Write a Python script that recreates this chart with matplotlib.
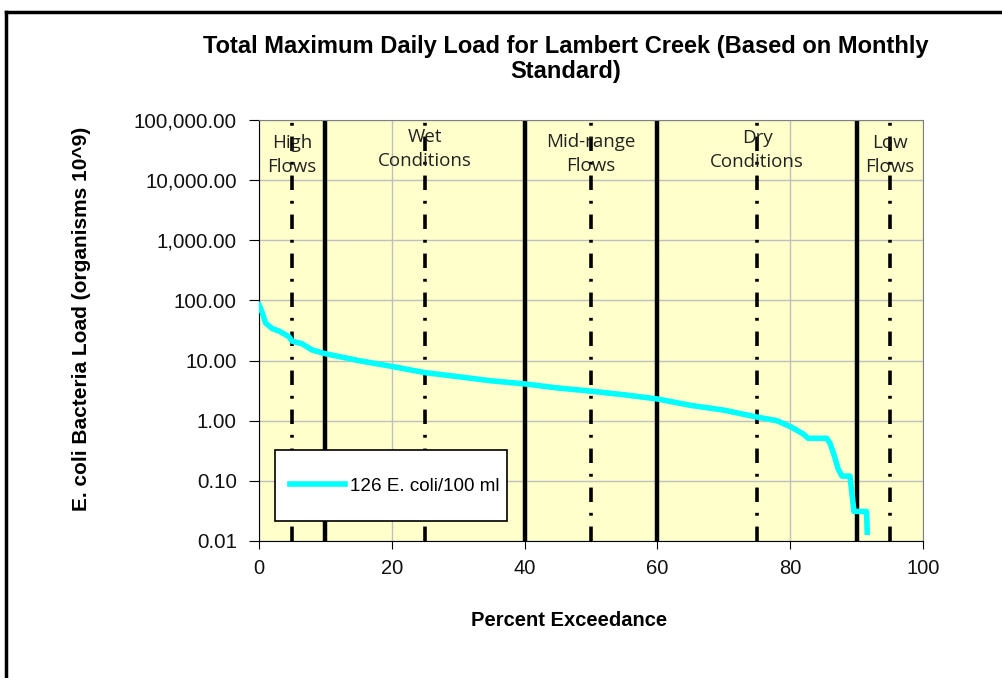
import numpy as np
import matplotlib.pyplot as plt
from matplotlib.lines import Line2D
from matplotlib.patches import Rectangle

plt.rcParams['font.family'] = ['Liberation Sans', 'DejaVu Sans']

# load duration curve
pct = [0, 0.5, 1, 2, 3, 4.5, 5, 6.5, 8, 10, 15, 20, 25, 30, 35, 40, 45, 50, 55, 60,
       65, 70, 75, 78, 80, 82, 82.7, 85.5, 86, 86.7, 87.2, 87.8, 89, 89.4, 89.6, 91.5, 91.6]
load = [85, 62, 42, 34, 31, 25, 21, 19, 15, 13, 10, 8, 6.3, 5.4, 4.6, 4.1, 3.5, 3.1, 2.7, 2.3,
        1.8, 1.5, 1.15, 1.0, 0.8, 0.6, 0.51, 0.51, 0.42, 0.25, 0.16, 0.12, 0.12, 0.05, 0.031, 0.031, 0.014]

zone_edges = [10, 40, 60, 90]
zone_mids = [5, 25, 50, 75, 95]
zone_names = ['High\nFlows', 'Wet\nConditions', 'Mid-range\nFlows', 'Dry\nConditions', 'Low\nFlows']
zone_label_y = [141, 135, 140, 136, 141]  # pixel rows of first line

yticks = [0.01, 0.1, 1, 10, 100, 1000, 10000, 100000]

W, H = 1003, 678
fig = plt.figure(figsize=(W / 100, H / 100), dpi=100)
ax = fig.add_axes([259 / W, 137 / H, 664 / W, 421 / H])
ax.set_facecolor('#FFFFCC')

ax.set_yscale('log')
ax.set_ylim(0.01, 100000)
ax.set_xlim(0, 100)
ax.set_yticks(yticks)
ax.set_yticklabels([f'{v:,.2f}' for v in yticks], fontsize=14.8, color='#111111')
ax.minorticks_off()
ax.set_xticks(range(0, 101, 20))
ax.tick_params(axis='x', labelsize=14.5, labelcolor='#111111', direction='out', length=6, pad=7)
ax.tick_params(axis='y', direction='out', length=7, pad=9)

ax.grid(True, color='#BFBFBF', linewidth=1)
ax.set_axisbelow(True)
for s in ['top', 'right']:
    ax.spines[s].set_color('#808080')
for s in ['left', 'bottom']:
    ax.spines[s].set_color('black')

for e in zone_edges:
    ax.axvline(e, color='black', linewidth=3.2, zorder=2)
for m in zone_mids:
    ax.axvline(m, color='black', linewidth=2.6, linestyle=(0, (4, 3, 0.8, 3)), zorder=2)

for m, name, py in zip(zone_mids, zone_names, zone_label_y):
    ax.text(m, 1 - (py - 120 - 7) / 421, name, transform=ax.get_xaxis_transform(),
            ha='center', va='top', fontsize=13.5, family=['Open Sans', 'DejaVu Sans'],
            color='#222222', linespacing=1.45, zorder=3)

ax.plot(pct, load, color='#00FFFF', linewidth=4, label='126 E. coli/100 ml', zorder=4)

# legend box
ax.add_patch(Rectangle((16 / 664, 20 / 421), 232 / 664, 71 / 421, transform=ax.transAxes,
                       facecolor='white', edgecolor='black', linewidth=1.2, zorder=5))
leg = ax.legend(loc='center left', bbox_to_anchor=(31 / 664, 55 / 421), fontsize=13.6,
                frameon=False, borderpad=0, handlelength=2.9, handletextpad=0.3,
                borderaxespad=0)
leg.set_zorder(6)

fig.text(566 / W, 1 - 59 / H, 'Total Maximum Daily Load for Lambert Creek (Based on Monthly\nStandard)',
         ha='center', va='center', fontsize=17, fontweight='bold', linespacing=1.15)
fig.text(569 / W, 1 - 620 / H, 'Percent Exceedance', ha='center', va='center',
         fontsize=14.5, fontweight='bold')
fig.text(82 / W, 1 - 319 / H, 'E. coli Bacteria Load (organisms 10^9)', ha='center', va='center',
         rotation=90, fontsize=15, fontweight='bold')

# outer chart frame
fig.add_artist(Line2D([6 / W, 6 / W], [0, 1 - 12 / H], color='black', linewidth=2.5,
                      transform=fig.transFigure))
fig.add_artist(Line2D([6 / W, 1], [1 - 12 / H, 1 - 12 / H], color='black', linewidth=2.5,
                      transform=fig.transFigure))

fig.savefig('out.png', dpi=100)
